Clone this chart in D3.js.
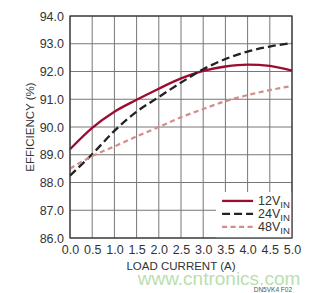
<!DOCTYPE html>
<html>
<head>
<meta charset="utf-8">
<script src="https://cdn.jsdelivr.net/npm/d3@7"></script>
<style>
  body { margin: 0; background: #fff; }
  text { font-family: "Liberation Sans Narrow", "Liberation Sans", Arial, sans-serif; fill: #333; }
</style>
</head>
<body>
<script>
const current = [0, 0.5, 1.0, 1.5, 2.0, 2.5, 3.0, 3.5, 4.0, 4.5, 5.0]
const eff12 = [89.2, 89.97, 90.55, 90.98, 91.38, 91.75, 92.02, 92.18, 92.25, 92.2, 92.03]
const eff24 = [88.25, 89.02, 89.86, 90.55, 91.08, 91.6, 92.08, 92.45, 92.72, 92.9, 93.03]
const eff48 = [88.5, 88.95, 89.3, 89.66, 90.0, 90.35, 90.65, 90.93, 91.15, 91.33, 91.48]
const xTicks = [0, 0.5, 1.0, 1.5, 2.0, 2.5, 3.0, 3.5, 4.0, 4.5, 5.0]
const yTicks = [86, 87, 88, 89, 90, 91, 92, 93, 94]

const series = [
  { name: '12V', sub: 'IN', values: eff12, color: '#9c0b30', width: 2.3, dash: null },
  { name: '24V', sub: 'IN', values: eff24, color: '#222222', width: 2.3, dash: '8,4' },
  { name: '48V', sub: 'IN', values: eff48, color: '#d38d88', width: 2.2, dash: '5,3.5' }
]

const margin = { top: 16, right: 31, bottom: 55, left: 70 }
const width = 323 - margin.left - margin.right
const height = 293 - margin.top - margin.bottom

const d3 = window.d3

const svg = d3.select('body')
  .append('svg')
  .attr('width', 323)
  .attr('height', 293)

const g = svg.append('g')
  .attr('transform', 'translate(' + margin.left + ',' + margin.top + ')')

const xScale = d3.scaleLinear().domain([0, 5]).range([0, width])
const yScale = d3.scaleLinear().domain([86, 94]).range([height, 0])

// grid
g.append('g')
  .selectAll('line')
  .data(xTicks)
  .join('line')
  .attr('x1', (d) => xScale(d))
  .attr('x2', (d) => xScale(d))
  .attr('y1', 0)
  .attr('y2', height)
  .attr('stroke', '#777')
  .attr('stroke-width', 1)

g.append('g')
  .selectAll('line')
  .data(yTicks)
  .join('line')
  .attr('x1', 0)
  .attr('x2', width)
  .attr('y1', (d) => yScale(d))
  .attr('y2', (d) => yScale(d))
  .attr('stroke', '#777')
  .attr('stroke-width', 1)

// curves
const line = d3.line()
  .x((d, i) => xScale(current[i]))
  .y((d) => yScale(d))
  .curve(d3.curveMonotoneX)

series.forEach((s) => {
  g.append('path')
    .datum(s.values)
    .attr('fill', 'none')
    .attr('stroke', s.color)
    .attr('stroke-width', s.width)
    .attr('stroke-dasharray', s.dash)
    .attr('d', line)
})

// legend, white box in the lower right corner of the plot
const legendX = xScale(3.29)
const legendY = yScale(87.66)
const legend = g.append('g')
  .attr('transform', `translate(${legendX}, ${legendY})`)

legend.append('rect')
  .attr('width', width - legendX)
  .attr('height', height - legendY)
  .attr('fill', '#fff')

series.forEach((s, i) => {
  const y = 9 + i * 13
  legend.append('line')
    .attr('x1', 6)
    .attr('x2', 37)
    .attr('y1', y)
    .attr('y2', y)
    .attr('stroke', s.color)
    .attr('stroke-width', s.width)
    .attr('stroke-dasharray', s.dash)
  const t = legend.append('text')
    .attr('x', 42)
    .attr('y', y + 4)
    .style('font-size', '12.5px')
  t.append('tspan').text(s.name)
  t.append('tspan').attr('dy', 3).style('font-size', '9.5px').text(s.sub)
})

// frame
g.append('rect')
  .attr('width', width)
  .attr('height', height)
  .attr('fill', 'none')
  .attr('stroke', '#333')
  .attr('stroke-width', 1.2)

// axes
const xAxis = g.append('g')
  .attr('transform', 'translate(0,' + height + ')')
  .call(d3.axisBottom(xScale).tickValues(xTicks).tickFormat(d3.format('.1f')).tickSize(0).tickPadding(7))
xAxis.select('.domain').remove()
xAxis.selectAll('text').style('font-size', '12.5px').attr('fill', '#333')

const yAxis = g.append('g')
  .call(d3.axisLeft(yScale).tickValues(yTicks).tickFormat(d3.format('.1f')).tickSize(0).tickPadding(6))
yAxis.select('.domain').remove()
yAxis.selectAll('text').style('font-size', '12.5px').attr('fill', '#333')

g.append('text')
  .attr('transform', `translate(${width / 2}, ${height + 32})`)
  .style('text-anchor', 'middle')
  .style('font-size', '11.5px')
  .text('LOAD CURRENT (A)')

g.append('text')
  .attr('transform', 'rotate(-90)')
  .attr('x', 0 - (height / 2))
  .attr('y', -36)
  .style('text-anchor', 'middle')
  .style('font-size', '11.5px')
  .text('EFFICIENCY (%)')

// watermark and figure id
svg.append('text')
  .attr('x', 219)
  .attr('y', 285)
  .style('text-anchor', 'middle')
  .style('font-family', '"Liberation Sans", Arial, sans-serif')
  .style('font-size', '19px')
  .style('fill', '#b9e0ad')
  .text('www.cntronics.com')

svg.append('text')
  .attr('x', 292)
  .attr('y', 292)
  .style('text-anchor', 'end')
  .style('font-size', '6.5px')
  .style('fill', '#555')
  .text('DN5VK4 F02')
</script>
</body>
</html>
